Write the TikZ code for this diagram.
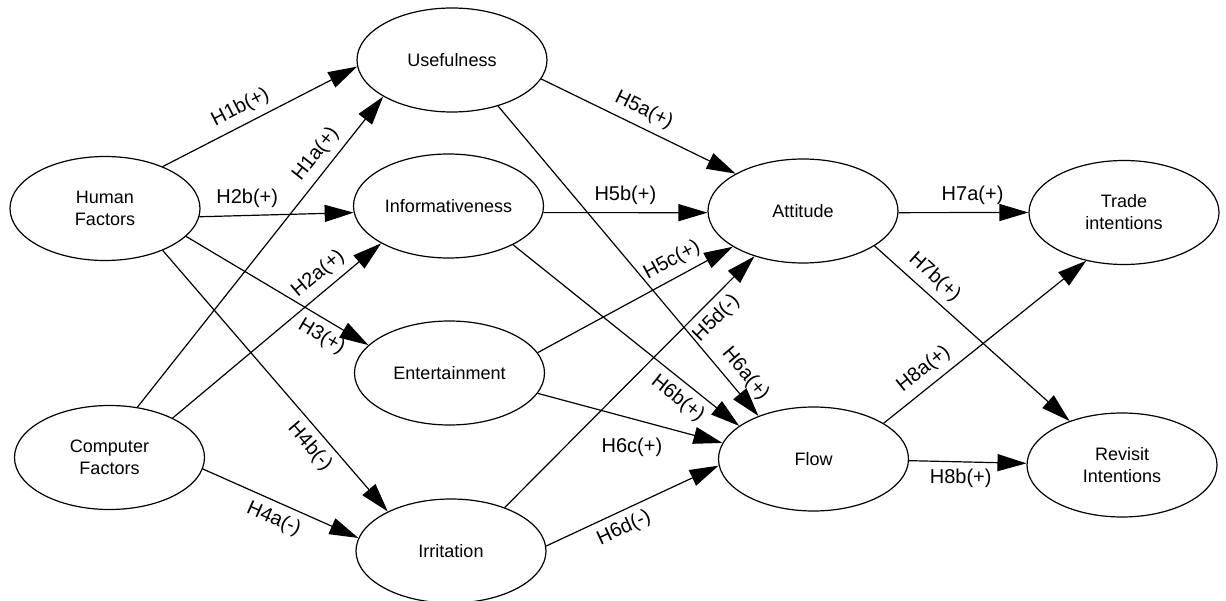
\documentclass[tikz,border=0pt]{standalone}
\usepackage{fontspec}
\setmainfont{Liberation Sans}
\usetikzlibrary{shapes.geometric,arrows.meta}
\begin{document}
\begin{tikzpicture}[x=1pt,y=-1pt,
  factor/.style={ellipse,draw,line width=1.2pt,minimum width=190pt,minimum height=104pt,inner sep=0pt,align=center,font=\fontsize{18}{22}\selectfont},
  link/.style={draw,line width=1.2pt,-{Triangle[length=29pt,width=17pt]}},
  lab/.style={font=\fontsize{20}{24}\selectfont,inner sep=7pt},
]
\useasboundingbox[fill=white] (0,0) rectangle (1226,601);

\node[factor] (hf)   at (105,208.5) {Human\\Factors};
\node[factor] (cf)   at (109.5,457.5) {Computer\\Factors};
\node[factor] (use)  at (452,60) {Usefulness};
\node[factor] (inf)  at (448.5,206) {Informativeness};
\node[factor] (ent)  at (449.5,373) {Entertainment};
\node[factor] (irr)  at (451,551) {Irritation};
\node[factor] (att)  at (803,211) {Attitude};
\node[factor] (flow) at (813.5,459) {Flow};
\node[factor] (tra)  at (1124,212.5) {Trade\\intentions};
\node[factor] (rev)  at (1122,465) {Revisit\\Intentions};

\draw[link] (hf.36)  -- node[lab,sloped,above,pos=.44]{H1b(+)} (use.184);
\draw[link] (cf.61)  -- node[lab,sloped,above,pos=.78]{H1a(+)} (use.208);
\draw[link] (hf.355) -- node[lab,above,pos=.31]{H2b(+)} (inf.184);
\draw[link] (cf.32.5) -- node[lab,sloped,above,pos=.75]{H2a(+)} (inf.209);
\draw[link] (hf.341) -- node[lab,sloped,below,pos=.79]{H3(+)} (ent.161);
\draw[link] (hf.324) -- node[lab,sloped,below,pos=.71]{H4b(-)} (irr.148.6);
\draw[link] (cf.353) -- node[lab,sloped,below,pos=.5]{H4a(-)} (irr.172);

\draw[link] (use.348) -- node[lab,sloped,above,pos=.49]{H5a(+)} (att.151);
\draw[link] (use.315) -- node[lab,sloped,above,pos=.9]{H6a(+)} (flow.142);
\draw[link] (inf.356) -- node[lab,above,pos=.5]{H5b(+)} (att.181);
\draw[link] (inf.329) -- node[lab,sloped,below,pos=.775]{H6b(+)} (flow.156.8);
\draw[link] (ent.13.2) -- node[lab,sloped,above,pos=.73]{H5c(+)} (att.207.9);
\draw[link] (ent.347) -- node[lab,below,pos=.51,yshift=-12pt]{H6c(+)} (flow.170.7);
\draw[link] (irr.39.2) -- node[lab,sloped,below,pos=.8]{H5d(-)} (att.223.8);
\draw[link] (irr.3.6) -- node[lab,sloped,below,pos=.41]{H6d(-)} (flow.184.2);

\draw[link] (att.359) -- node[lab,above,pos=.57]{H7a(+)} (tra.180);
\draw[link] (att.334) -- node[lab,sloped,above,pos=.25]{H7b(+)} (rev.140.8);
\draw[link] (flow.27.4) -- node[lab,sloped,above,pos=.25]{H8a(+)} (tra.232.5);
\draw[link] (flow.359) -- node[lab,below,pos=.44]{H8b(+)} (rev.179);
\end{tikzpicture}
\end{document}
